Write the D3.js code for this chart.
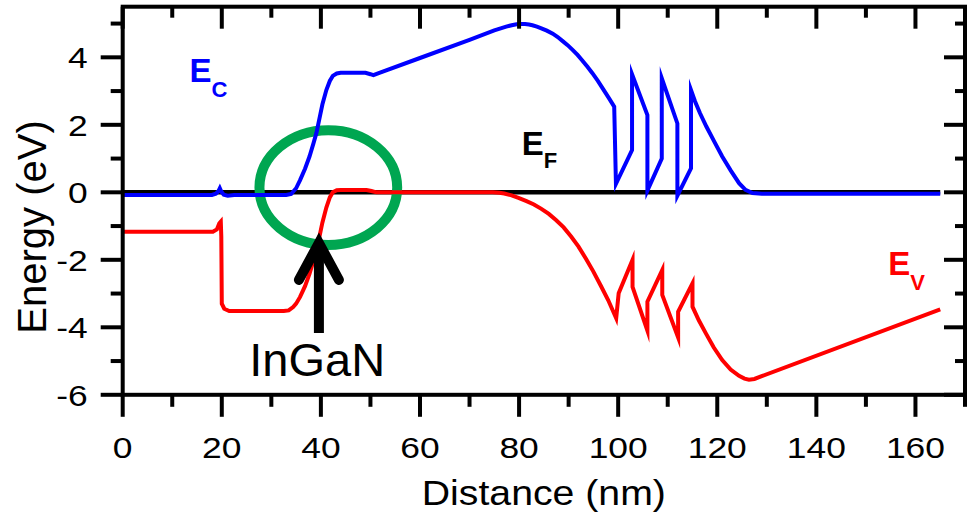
<!DOCTYPE html>
<html><head><meta charset="utf-8">
<script src="https://cdn.jsdelivr.net/npm/d3@7"></script>
<style>body{margin:0;background:#fff}svg{display:block}text{font-family:"Liberation Sans",Arial,Helvetica,sans-serif}</style>
</head><body><svg id="c" width="971" height="519"></svg>
<script>
// Conduction band E_C (nm, eV)
const ecData = [
 [0,-0.08],[18.0,-0.08],[18.8,-0.04],[19.3,0.03],[19.6,0.12],[19.9,0.02],[20.4,-0.07],[21.2,-0.1],[22.5,-0.08],
 [33.0,-0.08],[34.0,-0.05],[35.0,0.12],[35.8,0.36],[36.8,0.7],[37.7,1.06],[38.5,1.45],[39.1,1.76],[39.8,2.25],
 [40.3,2.6],[41.1,3.03],[41.8,3.3],[42.4,3.45],[43.2,3.52],[44.0,3.54],[49.0,3.54],[50.0,3.5],[50.6,3.47],[51.8,3.54],
 [60,3.98],[70,4.52],[75,4.8],[77.4,4.91],[78.5,4.95],[79.5,4.98],[80.3,4.99],[81.2,4.985],[82.0,4.97],[82.7,4.95],
 [83.6,4.91],[84.5,4.86],[85.6,4.79],[86.8,4.7],[87.8,4.6],[88.8,4.48],[89.8,4.36],[90.8,4.22],[91.8,4.07],
 [92.8,3.9],[93.8,3.72],[94.8,3.53],[95.9,3.3],[97.0,3.05],[98.1,2.8],[99.2,2.54],
 [99.55,0.25],[102.8,1.25],[102.8,3.5],[105.9,2.29],[105.9,0.05],[108.8,1.0],[108.8,3.38],[111.95,2.04],
 [111.95,-0.1],[114.7,0.71],[114.7,3.03],
 [115.5,2.7],[116.5,2.35],[117.8,1.95],[119.4,1.5],[121.0,1.06],[122.7,0.65],[124.4,0.27],[125.7,0.07],
 [127.1,-0.02],[129,-0.04],[165,-0.04]
];
// Valence band E_V (nm, eV)
const evData = [
 [0,-1.17],[18.2,-1.17],[19.0,-1.1],[19.5,-0.92],[19.8,-0.87],[19.9,-1.3],[20.0,-3.3],[20.5,-3.45],[21.5,-3.52],
 [32.5,-3.52],[33.5,-3.5],[34.4,-3.4],[35.0,-3.3],[35.8,-3.1],[36.8,-2.78],[37.7,-2.42],[38.5,-2.03],[39.1,-1.7],
 [39.8,-1.25],[40.3,-0.9],[41.1,-0.45],[41.8,-0.15],[42.4,0.0],[43.2,0.06],[44.0,0.07],[49.2,0.07],[50.2,0.04],
 [51.2,0.0],[74.7,0.0],[76.0,-0.015],[77.0,-0.035],[78.5,-0.09],[80.0,-0.17],[81.5,-0.26],[83.0,-0.36],
 [84.5,-0.49],[86.0,-0.64],[87.5,-0.83],[89.0,-1.04],[90.5,-1.31],[92.0,-1.61],[93.5,-1.97],[95.0,-2.35],
 [96.5,-2.77],[98.0,-3.2],[99.6,-3.73],
 [100.1,-2.99],[102.9,-2.0],[102.9,-2.8],[105.9,-4.1],[105.9,-3.24],[108.9,-2.3],[108.9,-3.04],[112.1,-4.3],
 [112.1,-3.54],[115.0,-2.7],[115.0,-3.39],
 [116.3,-3.8],[117.7,-4.18],[119.3,-4.6],[121.0,-4.97],[122.7,-5.25],[124.4,-5.44],[125.5,-5.52],[126.4,-5.55],
 [127.5,-5.53],[129.1,-5.44],[165,-3.47]
];
// Fermi level E_F
const efData = [[0,0],[165,0]];

const xTickVals = [0,20,40,60,80,100,120,140,160];
const yTickVals = [-6,-4,-2,0,2,4];
const xLabel = "Distance (nm)";
const yLabel = "Energy (eV)";

const svg = d3.select("#c");
const x = d3.scaleLinear([0,170],[122.7,965]);
const y = d3.scaleLinear([-6,5.5],[394.8,6.7]);
const line = d3.line().x(d=>x(d[0])).y(d=>y(d[1]));

// Fermi level
svg.append("path").attr("d",line(efData)).attr("fill","none").attr("stroke","#000").attr("stroke-width",4.5);

// green ellipse (InGaN region)
svg.append("ellipse").attr("cx",x(41.5)).attr("cy",y(0.14))
  .attr("rx",x(41.5+13.9)-x(41.5)).attr("ry",y(0.14)-y(0.14+1.7))
  .attr("fill","none").attr("stroke","#00a651").attr("stroke-width",10);

svg.append("path").attr("d",line(ecData)).attr("fill","none").attr("stroke","#0000ff").attr("stroke-width",4).attr("stroke-linejoin","miter").attr("stroke-miterlimit",10);
svg.append("path").attr("d",line(evData)).attr("fill","none").attr("stroke","#ff0000").attr("stroke-width",4).attr("stroke-linejoin","miter").attr("stroke-miterlimit",10);

// arrow
const tip=[39.6,-1.41];
const ax = x(tip[0]), ay = y(tip[1]);
svg.append("line").attr("x1",ax).attr("x2",ax).attr("y1",y(-4.17)).attr("y2",ay+8).attr("stroke","#000").attr("stroke-width",10);
svg.append("path").attr("d",`M${ax-20},${ay+40}L${ax},${ay+3}L${ax+20},${ay+40}`)
  .attr("fill","none").attr("stroke","#000").attr("stroke-width",10).attr("stroke-linecap","round").attr("stroke-linejoin","miter");

// frame
const x0=x(0), x1=x(170), y0=y(-6), y1=y(5.5);
const g = svg.append("g").attr("stroke","#000").attr("stroke-width",4);
d3.range(0,171,10).forEach(v=>{
  const maj = v%20===0, px=x(v);
  g.append("line").attr("x1",px).attr("x2",px).attr("y1",y0).attr("y2",y0+(maj?22:12));
  g.append("line").attr("x1",px).attr("x2",px).attr("y1",y1).attr("y2",y1+(maj?22:11));
});
d3.range(-6,6,1).forEach(v=>{
  const maj = v%2===0, py=y(v);
  g.append("line").attr("y1",py).attr("y2",py).attr("x1",x0).attr("x2",x0-(maj?22:12));
  g.append("line").attr("y1",py).attr("y2",py).attr("x1",x1).attr("x2",x1-(maj?21:10));
});
svg.append("rect").attr("x",x0).attr("y",y1).attr("width",x1-x0).attr("height",y0-y1)
  .attr("fill","none").attr("stroke","#000").attr("stroke-width",4);

// tick labels
const sx = 1.18;
xTickVals.forEach(v=>{
  svg.append("text").attr("transform",`translate(${x(v)},${y0+63}) scale(${sx},1)`)
    .attr("text-anchor","middle").attr("font-size",30).text(v);
});
yTickVals.forEach(v=>{
  svg.append("text").attr("transform",`translate(${x0-35},${y(v)+10.7}) scale(${sx},1)`)
    .attr("text-anchor","end").attr("font-size",30).text(v);
});
// axis titles
svg.append("text").attr("transform",`translate(${(x0+x1)/2},505) scale(1.09,1)`)
  .attr("text-anchor","middle").attr("font-size",36).text(xLabel);
svg.append("text").attr("transform",`translate(46,227) rotate(-90)`)
  .attr("text-anchor","middle").attr("font-size",40).text(yLabel);

// band labels
function bandLabel(px,py,main,sub,color,dy){
  const t = svg.append("text").attr("x",x(px)).attr("y",y(py)).attr("fill",color)
    .attr("font-weight","bold").attr("font-size",33);
  t.append("tspan").text(main);
  t.append("tspan").attr("dy",dy).attr("font-size",22).text(sub);
}
bandLabel(13.46,3.27,"E","C","#0000ff",15);
bandLabel(80.56,1.105,"E","F","#000",13);
bandLabel(154.5,-2.45,"E","V","#ff0000",15);

svg.append("text").attr("x",x(39.25)).attr("y",y(-5.44)).attr("text-anchor","middle")
  .attr("font-size",47).text("InGaN");
</script></body></html>
